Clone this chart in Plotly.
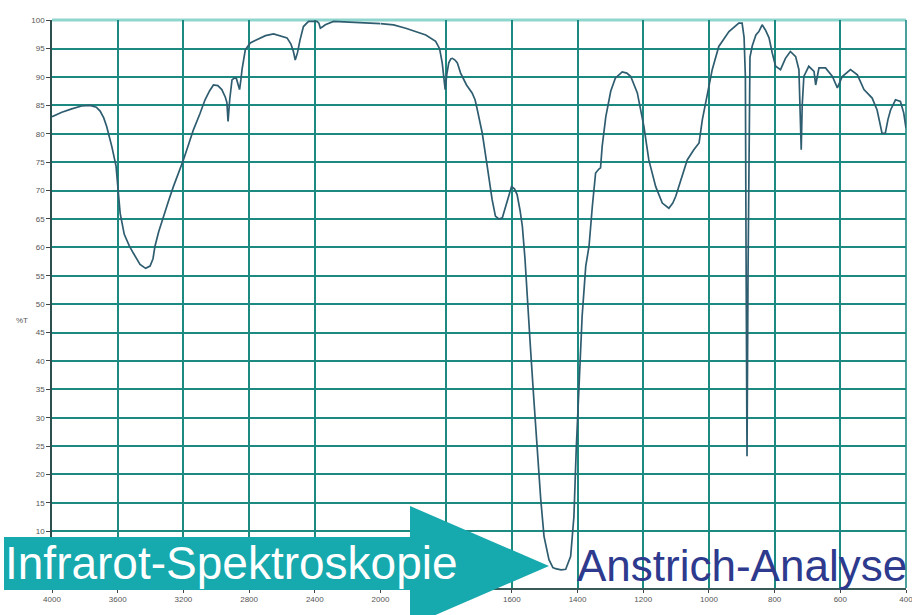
import plotly.graph_objects as go

# ---- data: IR spectrum (%T vs wavenumber cm-1) ----
wn_high = [4000, 3940, 3880, 3820, 3768, 3730, 3707, 3685, 3667, 3650, 3636, 3610, 3596, 3585,
           3560, 3530, 3505, 3464, 3430, 3403, 3385, 3373, 3350, 3322, 3290, 3261, 3230, 3200,
           3170, 3139, 3100, 3068, 3040, 3017, 2990, 2966, 2945, 2935, 2928, 2918, 2904, 2890,
           2878, 2866, 2858, 2850, 2843, 2823, 2793, 2760, 2732, 2700, 2651, 2610, 2569, 2545,
           2530, 2519, 2505, 2490, 2469, 2438, 2387, 2375, 2366, 2350, 2336, 2286, 2164, 2080, 2000]
t_high = [83.0, 83.8, 84.4, 84.9, 85.0, 84.7, 84.0, 82.8, 81.3, 79.5, 77.8, 74.3, 70.2, 66.0,
          62.3, 60.3, 59.0, 57.0, 56.3, 56.7, 58.0, 60.2, 62.8, 65.5, 68.2, 70.7, 73.0, 75.4,
          78.0, 80.7, 83.5, 86.0, 87.6, 88.6, 88.5, 87.8, 86.5, 85.5, 82.2, 86.0, 89.5, 89.8,
          89.8, 88.5, 87.8, 89.5, 91.3, 94.8, 96.0, 96.5, 96.9, 97.3, 97.6, 97.2, 96.9, 95.8,
          94.5, 93.0, 94.3, 96.5, 98.9, 99.8, 99.8, 99.5, 98.6, 98.9, 99.2, 99.8, 99.6, 99.5, 99.4]

wn_low = [2000, 1960, 1923, 1890, 1862, 1832, 1820, 1812, 1806, 1803, 1798, 1792, 1786, 1781,
          1773, 1766, 1756, 1745, 1738, 1721, 1712, 1705, 1690, 1675, 1660, 1650, 1640, 1629,
          1614, 1601, 1592, 1584, 1575, 1568, 1560, 1553, 1543, 1533, 1523, 1512, 1502, 1487,
          1475, 1467, 1450, 1436, 1421, 1411, 1404, 1396, 1386, 1375, 1365, 1355, 1345, 1335,
          1330, 1325, 1314, 1299, 1285, 1264, 1250, 1238, 1218, 1198, 1183, 1162, 1142, 1122,
          1110, 1101, 1081, 1066, 1046, 1030, 1020, 1005, 990, 970, 939, 909, 899, 893, 889,
          887, 884, 881, 878, 875, 868, 863, 857, 848, 838, 828, 817, 807, 797, 782, 767, 752,
          736, 726, 722, 719, 716, 711, 696, 680, 675, 670, 665, 645, 624, 609, 594, 569, 548,
          528, 503, 488, 478, 473, 463, 455, 447, 432, 417, 407, 400]
t_low = [99.4, 99.2, 98.6, 98.0, 97.4, 96.3, 95.0, 92.5, 88.5, 87.8, 90.5, 92.5, 93.2, 93.3,
         93.0, 92.5, 90.7, 89.3, 88.6, 87.2, 86.0, 84.2, 80.1, 74.3, 68.4, 65.5, 65.0, 65.2,
         68.4, 70.7, 70.3, 69.3, 66.5, 63.7, 58.0, 50.8, 42.0, 33.2, 24.4, 15.6, 9.1, 5.0,
         3.6, 3.4, 3.2, 3.3, 5.6, 12.6, 24.4, 36.1, 47.9, 56.7, 60.2, 67.2, 73.1, 73.8,
         74.0, 77.8, 83.0, 87.5, 89.8, 90.9, 90.7, 90.1, 87.2, 81.3, 75.4, 70.7, 67.8, 66.9,
         67.8, 69.0, 72.5, 75.4, 77.2, 78.4, 82.5, 87.2, 91.3, 95.4, 98.0, 99.5, 99.5, 97.0, 90.0,
         60.0, 23.2, 55.0, 85.0, 93.5, 95.5, 96.3, 97.4, 98.0, 99.2, 98.3, 96.9, 94.2, 91.9, 91.3, 93.3, 94.5,
         93.6, 91.3, 85.0, 77.2, 85.0, 90.1, 91.9, 91.0, 88.6, 90.5, 91.6, 91.6, 90.1, 88.1, 90.1, 91.3, 90.4,
         87.8, 86.3, 84.2, 81.5, 80.1, 80.1, 82.5, 84.2, 86.0, 85.7, 83.7, 81.0]

ticks_high = [4000, 3600, 3200, 2800, 2400]
ticks_low = [2000, 1800, 1600, 1400, 1200, 1000, 800, 600, 400]
ticks_y = [0, 10, 15, 20, 25, 30, 35, 40, 45, 50, 55, 60, 65, 70, 75, 80, 85, 90, 95, 100]
ticktext_y = ["" if v == 0 else str(v) for v in ticks_y]

title_left = "Infrarot-Spektroskopie"
title_right = "Anstrich-Analyse"

# ---- figure ----
W, H = 912, 615
ML, MR, MT, MB = 52, 6, 20, 27
PW, PH = W - ML - MR, H - MT - MB

def px(x):
    return (x - ML) / PW

def py(y):
    return (H - MB - y) / PH

GRID = "#1d8a82"
LINE = "#2f5d70"
TICKF = dict(family="Liberation Sans, Arial", size=8, color="#555555")

fig = go.Figure()
fig.add_trace(go.Scatter(x=wn_high, y=t_high, mode="lines", xaxis="x", yaxis="y",
                         line=dict(color=LINE, width=1.7), showlegend=False))
fig.add_trace(go.Scatter(x=wn_low, y=t_low, mode="lines", xaxis="x2", yaxis="y",
                         line=dict(color=LINE, width=1.7), showlegend=False))

split = 5 / 13
axis_common = dict(showgrid=True, gridcolor=GRID, gridwidth=1.6, ticks="outside",
                   ticklen=3, tickcolor="#444", tickfont=TICKF, zeroline=False,
                   showline=True, linecolor="#3a5a5a", linewidth=1.5,
                   ticklabeloverflow="allow", automargin=False)
fig.update_layout(
    width=W, height=H,
    margin=dict(l=ML, r=MR, t=MT, b=MB, autoexpand=False),
    paper_bgcolor="white", plot_bgcolor="white",
    xaxis=dict(domain=[0, split], range=[4000, 2000], tickvals=ticks_high,
               ticktext=[str(v) for v in ticks_high], anchor="y", **axis_common),
    xaxis2=dict(domain=[split, 1], range=[2000, 400], tickvals=ticks_low,
                ticktext=[str(v) for v in ticks_low], anchor="y", **axis_common),
    yaxis=dict(range=[0, 100.05], tickvals=ticks_y, ticktext=ticktext_y,
               showgrid=True, gridcolor=GRID, gridwidth=1.6, ticks="outside",
               ticklen=4, tickcolor="#444", tickfont=TICKF, zeroline=False,
               showline=True, linecolor="#2c4f4f", linewidth=1.5, automargin=False),
)

TEAL = "#16a9ad"
shapes = [
    dict(type="line", xref="paper", yref="paper", x0=0, x1=1, y0=1, y1=1,
         line=dict(color="#8fd6cf", width=3), layer="below"),
    dict(type="line", xref="paper", yref="paper", x0=1, x1=1, y0=0, y1=1,
         line=dict(color=GRID, width=1.6), layer="below"),
    dict(type="rect", xref="paper", yref="paper",
         x0=px(4), x1=px(411), y0=py(590), y1=py(537),
         fillcolor=TEAL, line=dict(width=0), layer="above"),
    dict(type="path", xref="paper", yref="paper",
         path=f"M {px(410)},{py(506)} L {px(549)},{py(566)} L {px(410)},{py(626)} Z",
         fillcolor=TEAL, line=dict(width=0), layer="above"),
]
fig.update_layout(shapes=shapes)

fig.add_annotation(text=title_left, xref="paper", yref="paper", x=px(3), y=py(563),
                   xanchor="left", yanchor="middle", showarrow=False,
                   font=dict(family="Liberation Sans, Arial", size=46, color="white"))
fig.add_annotation(text=title_right, xref="paper", yref="paper", x=px(575), y=py(565),
                   xanchor="left", yanchor="middle", showarrow=False,
                   font=dict(family="Liberation Sans, Arial", size=44, color="#2d3a8e"))
fig.add_annotation(text="%T", xref="paper", yref="paper", x=px(22), y=py(320),
                   xanchor="center", yanchor="middle", showarrow=False,
                   font=dict(family="Liberation Sans, Arial", size=8, color="#555555"))

fig.write_html("out.html", config={"displayModeBar": False},
               post_script="document.body.style.margin='0';document.body.style.overflow='hidden';")
